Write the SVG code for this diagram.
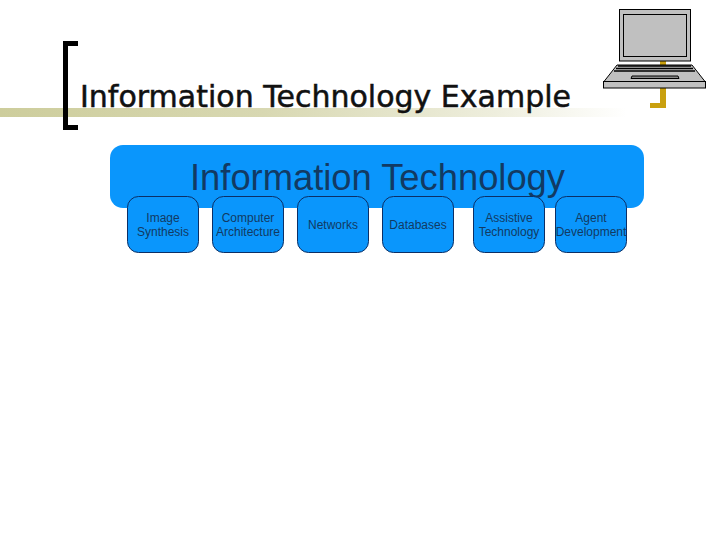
<svg xmlns="http://www.w3.org/2000/svg" width="720" height="540" viewBox="0 0 720 540">
<defs>
<linearGradient id="band" x1="0" x2="1" y1="0" y2="0">
<stop offset="0" stop-color="#cdcd9c"/><stop offset="0.4" stop-color="#d8d8b2"/><stop offset="0.75" stop-color="#eeeedd"/><stop offset="0.95" stop-color="#ffffff"/>
</linearGradient>
</defs>
<style>
.sub{fill:#0a96fc;stroke:#0b2f66;stroke-width:1}
.t{font-family:"Liberation Sans",Arial,sans-serif;font-size:12px;fill:#123a63;text-anchor:middle}
</style>
<rect width="720" height="540" fill="#fff"/>
<rect x="0" y="108" width="660" height="9" fill="url(#band)"/>
<g id="decor">
<path d="M78 41H63V130H78V125H68V46H78Z" fill="#000"/>
<path d="M650 108H666V60H660V103H650Z" fill="#c9a00f"/>
</g>
<text x="80" y="107" font-family="'DejaVu Sans',Verdana,sans-serif" font-size="30px" stroke="#111" stroke-width="0.5" textLength="491" lengthAdjust="spacingAndGlyphs" fill="#111">Information Technology Example</text>
<g id="laptop" stroke="#000">
<rect x="619.500" y="9.500" width="71" height="51.500" fill="#c0c0c0" stroke-width="1"/>
<rect x="623.500" y="14.500" width="63" height="42" fill="#c0c0c0" stroke-width="1"/>
<path d="M617 65H692L705 81.500H604Z" fill="#c0c0c0" stroke-width="1"/>
<path d="M618 66H691M616 68.500H693M614 71H695" stroke-width="1.500" fill="none"/>
<path d="M632 76H678L679 78.500H631Z" fill="#888" stroke-width="1"/>
<rect x="603.500" y="81.500" width="102" height="6.500" fill="#c0c0c0" stroke-width="1"/>
</g>
<g id="information-technology">
<rect x="110" y="145" width="534" height="63" rx="13" fill="#0a96fc"/>
<text x="377.500" y="190" font-family="'Liberation Sans',Arial,sans-serif" font-size="36px" textLength="375" lengthAdjust="spacingAndGlyphs" fill="#123a63" text-anchor="middle">Information Technology</text>
</g>
<g id="image-synthesis"><rect class="sub" x="127.500" y="196.500" width="71" height="56" rx="11"/><text class="t" x="163" y="222">Image</text><text class="t" x="163" y="236">Synthesis</text></g>
<g id="computer-architecture"><rect class="sub" x="212.500" y="196.500" width="71" height="56" rx="11"/><text class="t" x="248" y="222">Computer</text><text class="t" x="248" y="236">Architecture</text></g>
<g id="networks"><rect class="sub" x="297.500" y="196.500" width="71" height="56" rx="11"/><text class="t" x="333" y="229">Networks</text></g>
<g id="databases"><rect class="sub" x="382.500" y="196.500" width="71" height="56" rx="11"/><text class="t" x="418" y="229">Databases</text></g>
<g id="assistive-technology"><rect class="sub" x="473.500" y="196.500" width="71" height="56" rx="11"/><text class="t" x="509" y="222">Assistive</text><text class="t" x="509" y="236">Technology</text></g>
<g id="agent-development"><rect class="sub" x="555.500" y="196.500" width="71" height="56" rx="11"/><text class="t" x="591" y="222">Agent</text><text class="t" x="591" y="236">Development</text></g>
<g id="connectors"></g>
</svg>
